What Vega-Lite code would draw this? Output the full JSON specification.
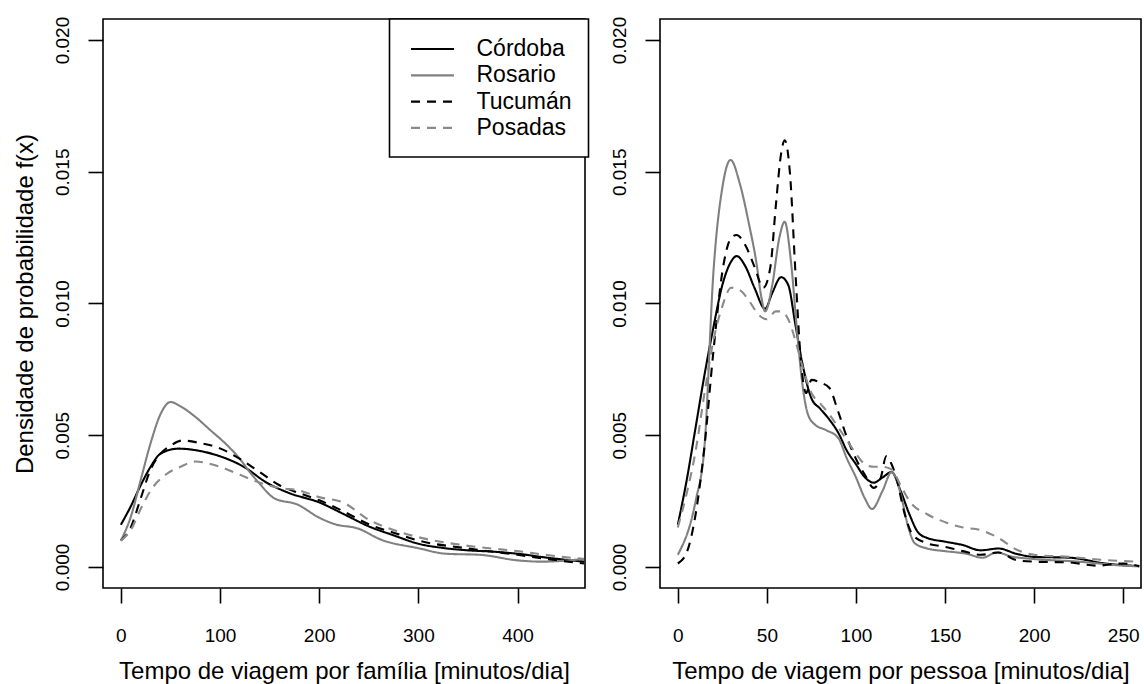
{
  "$schema": "https://vega.github.io/schema/vega-lite/v6.json",
  "background": "white",
  "padding": {"left": 12, "top": 15, "right": 0, "bottom": 0},
  "spacing": 18,
  "datasets": {
    "fam": [
      {"city": "Córdoba", "t": 0, "d": 0.0016}, {"city": "Córdoba", "t": 10, "d": 0.0023}, {"city": "Córdoba", "t": 20, "d": 0.0031}, {"city": "Córdoba", "t": 30, "d": 0.0038}, {"city": "Córdoba", "t": 40, "d": 0.0043}, {"city": "Córdoba", "t": 58, "d": 0.00449}, {"city": "Córdoba", "t": 80, "d": 0.0044}, {"city": "Córdoba", "t": 100, "d": 0.0042}, {"city": "Córdoba", "t": 124, "d": 0.0038}, {"city": "Córdoba", "t": 147, "d": 0.0032}, {"city": "Córdoba", "t": 170, "d": 0.0028}, {"city": "Córdoba", "t": 200, "d": 0.00245}, {"city": "Córdoba", "t": 225, "d": 0.002}, {"city": "Córdoba", "t": 250, "d": 0.00154}, {"city": "Córdoba", "t": 275, "d": 0.0012}, {"city": "Córdoba", "t": 300, "d": 0.00088}, {"city": "Córdoba", "t": 325, "d": 0.00072}, {"city": "Córdoba", "t": 350, "d": 0.00063}, {"city": "Córdoba", "t": 375, "d": 0.00058}, {"city": "Córdoba", "t": 400, "d": 0.0005}, {"city": "Córdoba", "t": 430, "d": 0.00035}, {"city": "Córdoba", "t": 467, "d": 0.0002},
      {"city": "Rosario", "t": 0, "d": 0.001}, {"city": "Rosario", "t": 10, "d": 0.0019}, {"city": "Rosario", "t": 20, "d": 0.0033}, {"city": "Rosario", "t": 30, "d": 0.0047}, {"city": "Rosario", "t": 40, "d": 0.0058}, {"city": "Rosario", "t": 50, "d": 0.00626}, {"city": "Rosario", "t": 60, "d": 0.0061}, {"city": "Rosario", "t": 75, "d": 0.0057}, {"city": "Rosario", "t": 90, "d": 0.0052}, {"city": "Rosario", "t": 105, "d": 0.0047}, {"city": "Rosario", "t": 120, "d": 0.0041}, {"city": "Rosario", "t": 130, "d": 0.0036}, {"city": "Rosario", "t": 139, "d": 0.0032}, {"city": "Rosario", "t": 155, "d": 0.0026}, {"city": "Rosario", "t": 178, "d": 0.00237}, {"city": "Rosario", "t": 200, "d": 0.00187}, {"city": "Rosario", "t": 216, "d": 0.00162}, {"city": "Rosario", "t": 239, "d": 0.00146}, {"city": "Rosario", "t": 262, "d": 0.00104}, {"city": "Rosario", "t": 300, "d": 0.00071}, {"city": "Rosario", "t": 328, "d": 0.0005}, {"city": "Rosario", "t": 362, "d": 0.00046}, {"city": "Rosario", "t": 400, "d": 0.00025}, {"city": "Rosario", "t": 424, "d": 0.0002}, {"city": "Rosario", "t": 467, "d": 0.0003},
      {"city": "Tucumán", "t": 0, "d": 0.001}, {"city": "Tucumán", "t": 10, "d": 0.0015}, {"city": "Tucumán", "t": 20, "d": 0.0026}, {"city": "Tucumán", "t": 30, "d": 0.0037}, {"city": "Tucumán", "t": 40, "d": 0.0043}, {"city": "Tucumán", "t": 50, "d": 0.0046}, {"city": "Tucumán", "t": 62, "d": 0.0048}, {"city": "Tucumán", "t": 80, "d": 0.0047}, {"city": "Tucumán", "t": 100, "d": 0.0045}, {"city": "Tucumán", "t": 120, "d": 0.0041}, {"city": "Tucumán", "t": 140, "d": 0.0036}, {"city": "Tucumán", "t": 160, "d": 0.0031}, {"city": "Tucumán", "t": 180, "d": 0.0028}, {"city": "Tucumán", "t": 200, "d": 0.00253}, {"city": "Tucumán", "t": 225, "d": 0.0021}, {"city": "Tucumán", "t": 250, "d": 0.00162}, {"city": "Tucumán", "t": 275, "d": 0.0013}, {"city": "Tucumán", "t": 300, "d": 0.001}, {"city": "Tucumán", "t": 350, "d": 0.0007}, {"city": "Tucumán", "t": 400, "d": 0.00046}, {"city": "Tucumán", "t": 430, "d": 0.0003}, {"city": "Tucumán", "t": 467, "d": 0.00013},
      {"city": "Posadas", "t": 0, "d": 0.001}, {"city": "Posadas", "t": 10, "d": 0.0014}, {"city": "Posadas", "t": 20, "d": 0.0022}, {"city": "Posadas", "t": 30, "d": 0.0029}, {"city": "Posadas", "t": 45, "d": 0.0035}, {"city": "Posadas", "t": 60, "d": 0.0038}, {"city": "Posadas", "t": 75, "d": 0.004}, {"city": "Posadas", "t": 100, "d": 0.0038}, {"city": "Posadas", "t": 120, "d": 0.0035}, {"city": "Posadas", "t": 140, "d": 0.0032}, {"city": "Posadas", "t": 160, "d": 0.003}, {"city": "Posadas", "t": 180, "d": 0.0029}, {"city": "Posadas", "t": 200, "d": 0.00265}, {"city": "Posadas", "t": 224, "d": 0.00245}, {"city": "Posadas", "t": 250, "d": 0.00179}, {"city": "Posadas", "t": 275, "d": 0.0014}, {"city": "Posadas", "t": 300, "d": 0.00113}, {"city": "Posadas", "t": 350, "d": 0.0008}, {"city": "Posadas", "t": 400, "d": 0.0006}, {"city": "Posadas", "t": 430, "d": 0.00045}, {"city": "Posadas", "t": 467, "d": 0.0003}
    ],
    "pes": [
      {"city": "Córdoba", "t": 0, "d": 0.0016}, {"city": "Córdoba", "t": 5, "d": 0.0033}, {"city": "Córdoba", "t": 10, "d": 0.0053}, {"city": "Córdoba", "t": 15, "d": 0.0073}, {"city": "Córdoba", "t": 20, "d": 0.0091}, {"city": "Córdoba", "t": 25, "d": 0.0107}, {"city": "Córdoba", "t": 30, "d": 0.0116}, {"city": "Córdoba", "t": 33, "d": 0.0118}, {"city": "Córdoba", "t": 38, "d": 0.0114}, {"city": "Córdoba", "t": 43, "d": 0.0106}, {"city": "Córdoba", "t": 49, "d": 0.0098}, {"city": "Córdoba", "t": 53, "d": 0.0104}, {"city": "Córdoba", "t": 58, "d": 0.011}, {"city": "Córdoba", "t": 62, "d": 0.0107}, {"city": "Córdoba", "t": 66, "d": 0.0092}, {"city": "Córdoba", "t": 70, "d": 0.0077}, {"city": "Córdoba", "t": 75, "d": 0.0064}, {"city": "Córdoba", "t": 80, "d": 0.006}, {"city": "Córdoba", "t": 85, "d": 0.0056}, {"city": "Córdoba", "t": 90, "d": 0.0051}, {"city": "Córdoba", "t": 95, "d": 0.0044}, {"city": "Córdoba", "t": 100, "d": 0.0039}, {"city": "Córdoba", "t": 105, "d": 0.0034}, {"city": "Córdoba", "t": 110, "d": 0.0032}, {"city": "Córdoba", "t": 115, "d": 0.0034}, {"city": "Córdoba", "t": 120, "d": 0.0036}, {"city": "Córdoba", "t": 125, "d": 0.0029}, {"city": "Córdoba", "t": 130, "d": 0.002}, {"city": "Córdoba", "t": 135, "d": 0.0013}, {"city": "Córdoba", "t": 140, "d": 0.0011}, {"city": "Córdoba", "t": 150, "d": 0.00096}, {"city": "Córdoba", "t": 160, "d": 0.00083}, {"city": "Córdoba", "t": 170, "d": 0.00063}, {"city": "Córdoba", "t": 180, "d": 0.0007}, {"city": "Córdoba", "t": 190, "d": 0.0005}, {"city": "Córdoba", "t": 200, "d": 0.00038}, {"city": "Córdoba", "t": 220, "d": 0.00035}, {"city": "Córdoba", "t": 240, "d": 0.00013}, {"city": "Córdoba", "t": 259, "d": 0.00003},
      {"city": "Rosario", "t": 0, "d": 0.00046}, {"city": "Rosario", "t": 10, "d": 0.0025}, {"city": "Rosario", "t": 15, "d": 0.0046}, {"city": "Rosario", "t": 20, "d": 0.0112}, {"city": "Rosario", "t": 25, "d": 0.0144}, {"city": "Rosario", "t": 29.6, "d": 0.01545}, {"city": "Rosario", "t": 35, "d": 0.0145}, {"city": "Rosario", "t": 40, "d": 0.013}, {"city": "Rosario", "t": 44, "d": 0.0116}, {"city": "Rosario", "t": 47, "d": 0.0102}, {"city": "Rosario", "t": 49, "d": 0.0097}, {"city": "Rosario", "t": 53, "d": 0.0107}, {"city": "Rosario", "t": 57, "d": 0.0125}, {"city": "Rosario", "t": 60, "d": 0.0131}, {"city": "Rosario", "t": 63.5, "d": 0.0116}, {"city": "Rosario", "t": 67, "d": 0.0089}, {"city": "Rosario", "t": 70, "d": 0.0069}, {"city": "Rosario", "t": 73, "d": 0.0058}, {"city": "Rosario", "t": 77, "d": 0.0054}, {"city": "Rosario", "t": 83, "d": 0.0052}, {"city": "Rosario", "t": 90, "d": 0.0049}, {"city": "Rosario", "t": 95, "d": 0.0041}, {"city": "Rosario", "t": 100, "d": 0.0034}, {"city": "Rosario", "t": 105, "d": 0.0026}, {"city": "Rosario", "t": 109, "d": 0.0022}, {"city": "Rosario", "t": 115, "d": 0.0029}, {"city": "Rosario", "t": 120, "d": 0.0036}, {"city": "Rosario", "t": 125, "d": 0.0028}, {"city": "Rosario", "t": 129, "d": 0.0016}, {"city": "Rosario", "t": 133, "d": 0.0009}, {"city": "Rosario", "t": 140, "d": 0.0007}, {"city": "Rosario", "t": 150, "d": 0.0006}, {"city": "Rosario", "t": 162, "d": 0.0005}, {"city": "Rosario", "t": 171, "d": 0.00035}, {"city": "Rosario", "t": 179, "d": 0.00055}, {"city": "Rosario", "t": 187, "d": 0.0004}, {"city": "Rosario", "t": 200, "d": 0.0003}, {"city": "Rosario", "t": 225, "d": 0.0002}, {"city": "Rosario", "t": 250, "d": 0.00005}, {"city": "Rosario", "t": 259, "d": 0.00002},
      {"city": "Tucumán", "t": 0, "d": 0.00013}, {"city": "Tucumán", "t": 5, "d": 0.00055}, {"city": "Tucumán", "t": 10, "d": 0.002}, {"city": "Tucumán", "t": 15, "d": 0.0046}, {"city": "Tucumán", "t": 20, "d": 0.0082}, {"city": "Tucumán", "t": 25, "d": 0.0112}, {"city": "Tucumán", "t": 30, "d": 0.0125}, {"city": "Tucumán", "t": 33, "d": 0.0126}, {"city": "Tucumán", "t": 38, "d": 0.0122}, {"city": "Tucumán", "t": 43, "d": 0.0114}, {"city": "Tucumán", "t": 48, "d": 0.0106}, {"city": "Tucumán", "t": 52, "d": 0.0114}, {"city": "Tucumán", "t": 55, "d": 0.0137}, {"city": "Tucumán", "t": 58, "d": 0.0157}, {"city": "Tucumán", "t": 60, "d": 0.0162}, {"city": "Tucumán", "t": 63, "d": 0.0149}, {"city": "Tucumán", "t": 66, "d": 0.0112}, {"city": "Tucumán", "t": 69, "d": 0.0079}, {"city": "Tucumán", "t": 72, "d": 0.0066}, {"city": "Tucumán", "t": 75, "d": 0.0071}, {"city": "Tucumán", "t": 80, "d": 0.007}, {"city": "Tucumán", "t": 85, "d": 0.0068}, {"city": "Tucumán", "t": 90, "d": 0.0059}, {"city": "Tucumán", "t": 95, "d": 0.0049}, {"city": "Tucumán", "t": 100, "d": 0.0041}, {"city": "Tucumán", "t": 105, "d": 0.0035}, {"city": "Tucumán", "t": 110, "d": 0.003}, {"city": "Tucumán", "t": 114, "d": 0.0034}, {"city": "Tucumán", "t": 117, "d": 0.0042}, {"city": "Tucumán", "t": 120, "d": 0.0039}, {"city": "Tucumán", "t": 123, "d": 0.0033}, {"city": "Tucumán", "t": 127, "d": 0.0021}, {"city": "Tucumán", "t": 132, "d": 0.0012}, {"city": "Tucumán", "t": 140, "d": 0.0009}, {"city": "Tucumán", "t": 150, "d": 0.00076}, {"city": "Tucumán", "t": 160, "d": 0.0006}, {"city": "Tucumán", "t": 170, "d": 0.00046}, {"city": "Tucumán", "t": 180, "d": 0.00055}, {"city": "Tucumán", "t": 190, "d": 0.00026}, {"city": "Tucumán", "t": 200, "d": 0.0002}, {"city": "Tucumán", "t": 220, "d": 0.00017}, {"city": "Tucumán", "t": 235, "d": 0.00005}, {"city": "Tucumán", "t": 250, "d": 0.00013}, {"city": "Tucumán", "t": 259, "d": 0.00003},
      {"city": "Posadas", "t": 0, "d": 0.0015}, {"city": "Posadas", "t": 5, "d": 0.0028}, {"city": "Posadas", "t": 10, "d": 0.0044}, {"city": "Posadas", "t": 15, "d": 0.0066}, {"city": "Posadas", "t": 20, "d": 0.0086}, {"city": "Posadas", "t": 25, "d": 0.0099}, {"city": "Posadas", "t": 30, "d": 0.0106}, {"city": "Posadas", "t": 35, "d": 0.0105}, {"city": "Posadas", "t": 40, "d": 0.0101}, {"city": "Posadas", "t": 45, "d": 0.0096}, {"city": "Posadas", "t": 50, "d": 0.0094}, {"city": "Posadas", "t": 55, "d": 0.0097}, {"city": "Posadas", "t": 58, "d": 0.0097}, {"city": "Posadas", "t": 62, "d": 0.0094}, {"city": "Posadas", "t": 66, "d": 0.0086}, {"city": "Posadas", "t": 70, "d": 0.0076}, {"city": "Posadas", "t": 75, "d": 0.0066}, {"city": "Posadas", "t": 80, "d": 0.0062}, {"city": "Posadas", "t": 85, "d": 0.0058}, {"city": "Posadas", "t": 90, "d": 0.0053}, {"city": "Posadas", "t": 95, "d": 0.0048}, {"city": "Posadas", "t": 100, "d": 0.0043}, {"city": "Posadas", "t": 105, "d": 0.0039}, {"city": "Posadas", "t": 110, "d": 0.0038}, {"city": "Posadas", "t": 115, "d": 0.0038}, {"city": "Posadas", "t": 120, "d": 0.0037}, {"city": "Posadas", "t": 125, "d": 0.0031}, {"city": "Posadas", "t": 130, "d": 0.0025}, {"city": "Posadas", "t": 140, "d": 0.002}, {"city": "Posadas", "t": 150, "d": 0.0017}, {"city": "Posadas", "t": 160, "d": 0.0015}, {"city": "Posadas", "t": 170, "d": 0.0014}, {"city": "Posadas", "t": 180, "d": 0.0011}, {"city": "Posadas", "t": 190, "d": 0.00066}, {"city": "Posadas", "t": 200, "d": 0.00046}, {"city": "Posadas", "t": 220, "d": 0.00038}, {"city": "Posadas", "t": 240, "d": 0.00026}, {"city": "Posadas", "t": 259, "d": 0.0002}
    ]
  },
  "config": {
    "font": "Liberation Sans",
    "view": {"stroke": "black", "strokeWidth": 1.6},
    "axis": {"domain": false, "grid": false, "ticks": true, "tickSize": 15, "tickWidth": 1.6, "tickColor": "black", "labelColor": "black", "labelFontSize": 19, "labelFont": "Liberation Sans", "titleFont": "Liberation Sans", "titleFontSize": 24, "titleFontWeight": "normal", "titleColor": "black", "labelFlush": false, "labelOverlap": false},
    "axisX": {"labelPadding": 23, "titlePadding": 14},
    "axisY": {"labelAngle": -90, "labelAlign": "center", "labelBaseline": "bottom", "labelPadding": 16, "titlePadding": 16},
    "legend": {"orient": "none", "title": null, "labelFont": "Liberation Sans", "labelFontSize": 23, "labelColor": "black", "symbolType": "M-0.708,0H2.875", "symbolSize": 576, "symbolStrokeWidth": 2.2, "symbolFillColor": "transparent", "labelOffset": 43.5, "rowPadding": 0.3, "padding": 16.5, "strokeColor": "black", "strokeWidth": 1.6, "fillColor": "white"}
  },
  "resolve": {"legend": {"color": "independent", "strokeDash": "independent"}, "scale": {"color": "independent", "strokeDash": "independent"}},
  "hconcat": [
    {
      "width": 482,
      "height": 569,
      "layer": [
        {"mark": {"type": "rule", "color": "#e8e8e8", "strokeWidth": 1.5}, "encoding": {"y": {"datum": 0, "type": "quantitative"}}},
        {
          "data": {"name": "fam"},
          "mark": {"type": "line", "interpolate": "monotone", "strokeWidth": 2.1, "clip": true},
          "encoding": {
            "x": {"field": "t", "type": "quantitative", "scale": {"domain": [-18, 468], "nice": false, "zero": false}, "axis": {"values": [0, 100, 200, 300, 400], "title": "Tempo de viagem por família [minutos/dia]"}},
            "y": {"field": "d", "type": "quantitative", "scale": {"domain": [-0.0008, 0.0208], "nice": false}, "axis": {"values": [0, 0.005, 0.01, 0.015, 0.02], "format": ".3f", "title": "Densidade de probabilidade f(x)"}},
            "color": {"field": "city", "type": "nominal", "scale": {"domain": ["Córdoba", "Rosario", "Tucumán", "Posadas"], "range": ["#000000", "#808080", "#000000", "#8a8a8a"]}, "legend": {"legendX": 286.5, "legendY": 0}},
            "strokeDash": {"field": "city", "type": "nominal", "scale": {"domain": ["Córdoba", "Rosario", "Tucumán", "Posadas"], "range": [[1, 0], [1, 0], [9, 7], [9, 7]]}, "legend": {"legendX": 286.5, "legendY": 0}}
          }
        }
      ]
    },
    {
      "width": 481,
      "height": 569,
      "layer": [
        {"mark": {"type": "rule", "color": "#e8e8e8", "strokeWidth": 1.5}, "encoding": {"y": {"datum": 0, "type": "quantitative"}}},
        {
          "data": {"name": "pes"},
          "mark": {"type": "line", "interpolate": "monotone", "strokeWidth": 2.1, "clip": true},
          "encoding": {
            "x": {"field": "t", "type": "quantitative", "scale": {"domain": [-10, 260], "nice": false, "zero": false}, "axis": {"values": [0, 50, 100, 150, 200, 250], "title": "Tempo de viagem por pessoa [minutos/dia]"}},
            "y": {"field": "d", "type": "quantitative", "scale": {"domain": [-0.0008, 0.0208], "nice": false}, "axis": {"values": [0, 0.005, 0.01, 0.015, 0.02], "format": ".3f", "title": null}},
            "color": {"field": "city", "type": "nominal", "scale": {"domain": ["Córdoba", "Rosario", "Tucumán", "Posadas"], "range": ["#000000", "#808080", "#000000", "#8a8a8a"]}, "legend": null},
            "strokeDash": {"field": "city", "type": "nominal", "scale": {"domain": ["Córdoba", "Rosario", "Tucumán", "Posadas"], "range": [[1, 0], [1, 0], [9, 7], [9, 7]]}, "legend": null}
          }
        }
      ]
    }
  ]
}
